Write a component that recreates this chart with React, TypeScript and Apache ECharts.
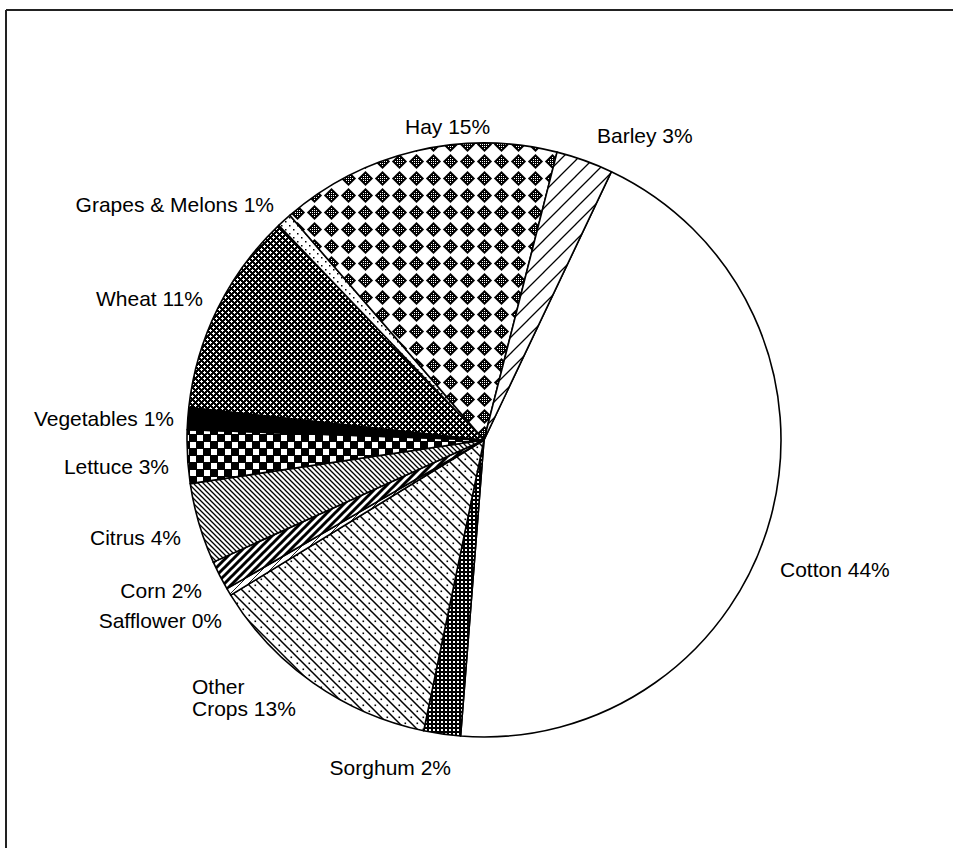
import React, { useEffect, useRef } from 'react';
import * as echarts from 'echarts';

// ---- data (clockwise from the Barley/Cotton boundary) ----
const categories = [
  'Cotton', 'Sorghum', 'Other Crops', 'Safflower', 'Corn', 'Citrus',
  'Lettuce', 'Vegetables', 'Wheat', 'Grapes & Melons', 'Hay', 'Barley',
];
const shares = [44.2, 2.0, 13.0, 0.4, 1.6, 4.4, 2.9, 1.2, 11.1, 0.8, 15.3, 3.1];

// ---- label placement (style only) ----
const labelPlacement: Record<string, { x: number; y: number; align: string }> = {
  'Cotton': { x: 780, y: 569, align: 'left' },
  'Sorghum': { x: 451, y: 767, align: 'right' },
  'Other Crops': { x: 192, y: 697, align: 'left' },
  'Safflower': { x: 222, y: 620, align: 'right' },
  'Corn': { x: 202, y: 590, align: 'right' },
  'Citrus': { x: 181, y: 537, align: 'right' },
  'Lettuce': { x: 169, y: 466, align: 'right' },
  'Vegetables': { x: 174, y: 418, align: 'right' },
  'Wheat': { x: 203, y: 298, align: 'right' },
  'Grapes & Melons': { x: 274, y: 204, align: 'right' },
  'Hay': { x: 405, y: 126, align: 'left' },
  'Barley': { x: 597, y: 135, align: 'left' },
};
const wrapAfterFirstWord = new Set(['Other Crops']);

type Draw = (c: CanvasRenderingContext2D, w: number, h: number) => void;

function tile(w: number, h: number, draw: Draw) {
  const cv = document.createElement('canvas');
  cv.width = w;
  cv.height = h;
  const c = cv.getContext('2d')!;
  c.fillStyle = '#fff';
  c.fillRect(0, 0, w, h);
  draw(c, w, h);
  return { image: cv.toDataURL(), repeat: 'repeat', imageWidth: w, imageHeight: h } as any;
}

function lines(c: CanvasRenderingContext2D, s: number, lw: number, dir: 'back' | 'fwd') {
  c.strokeStyle = '#000';
  c.lineWidth = lw;
  c.beginPath();
  for (const off of [-s, 0, s]) {
    if (dir === 'back') {
      c.moveTo(-2 + off, -2);
      c.lineTo(s + 2 + off, s + 2);
    } else {
      c.moveTo(-2 + off, s + 2);
      c.lineTo(s + 2 + off, -2);
    }
  }
  c.stroke();
}

function buildFills(): Record<string, any> {
  return {
    'Cotton': '#ffffff',
    'Sorghum': tile(4, 4, (c) => {
      c.fillStyle = '#000';
      c.fillRect(0, 0, 4, 4);
      c.fillStyle = '#fff';
      c.fillRect(1, 1, 2, 2);
    }),
    'Other Crops': tile(12, 12, (c) => {
      lines(c, 12, 1.5, 'back');
      c.fillStyle = '#000';
      c.fillRect(8.5, 2.5, 1.6, 1.6);
      c.fillRect(2.5, 8.5, 1.6, 1.6);
    }),
    'Safflower': tile(8, 8, (c) => {
      lines(c, 8, 0.9, 'fwd');
    }),
    'Corn': tile(8, 8, (c) => {
      lines(c, 8, 3, 'fwd');
    }),
    'Citrus': tile(5, 5, (c) => {
      lines(c, 5, 1.3, 'back');
    }),
    'Lettuce': tile(14, 14, (c) => {
      c.fillStyle = '#000';
      c.fillRect(0, 0, 14, 14);
      c.fillStyle = '#fff';
      c.fillRect(1, 1, 6, 6);
      c.fillRect(8, 8, 6, 6);
    }),
    'Vegetables': '#000000',
    'Wheat': tile(6, 6, (c) => {
      c.fillStyle = '#000';
      c.fillRect(0, 0, 6, 6);
      c.fillStyle = '#fff';
      c.fillRect(2, 3, 3, 1);
      c.fillRect(3, 2, 1, 3);
      c.fillRect(0, 0, 2, 1);
      c.fillRect(5, 0, 1, 1);
      c.fillRect(0, 0, 1, 2);
      c.fillRect(0, 5, 1, 1);
    }),
    'Grapes & Melons': tile(8, 8, (c) => {
      c.fillStyle = '#000';
      c.fillRect(1, 1, 1.5, 1.5);
      c.fillRect(5, 5, 1.5, 1.5);
    }),
    'Hay': tile(17, 17, (c) => {
      const cx = 8.5, cy = 8.5, r = 7.6;
      c.fillStyle = '#000';
      c.beginPath();
      c.moveTo(cx, cy - r);
      c.lineTo(cx + r, cy);
      c.lineTo(cx, cy + r);
      c.lineTo(cx - r, cy);
      c.closePath();
      c.fill();
      c.fillStyle = '#fff';
      for (let x = 0; x < 17; x++) {
        for (let y = 0; y < 17; y++) {
          const d = Math.abs(x + 0.5 - cx) + Math.abs(y + 0.5 - cy);
          if (d < 5 && x % 2 === 0 && y % 2 === 0) c.fillRect(x, y, 1, 1);
        }
      }
    }),
    'Barley': tile(16, 16, (c) => {
      lines(c, 16, 1.3, 'fwd');
    }),
  };
}

export default function App() {
  const ref = useRef<HTMLDivElement>(null);

  useEffect(() => {
    if (!ref.current) return;
    const chart = echarts.init(ref.current, undefined, { renderer: 'svg' });
    const fills = buildFills();

    const data = categories.map((name, i) => ({
      name,
      value: shares[i],
      itemStyle: { color: fills[name], borderColor: '#000', borderWidth: 1.6 },
    }));

    chart.setOption({
      animation: false,
      backgroundColor: '#fff',
      graphic: [
        { type: 'line', shape: { x1: 6, y1: 10, x2: 953, y2: 10 }, style: { stroke: '#222', lineWidth: 1.8 } },
        { type: 'line', shape: { x1: 6, y1: 10, x2: 6, y2: 848 }, style: { stroke: '#222', lineWidth: 2 } },
      ],
      series: [
        {
          type: 'pie',
          center: [484, 440],
          radius: 297,
          startAngle: 64.6,
          clockwise: true,
          avoidLabelOverlap: false,
          silent: true,
          label: {
            show: true,
            position: 'outside',
            color: '#000',
            fontFamily: '"Liberation Sans", Arial, Helvetica, sans-serif',
            fontSize: 21,
            lineHeight: 22,
            formatter: (p: any) => {
              const pct = Math.round(p.percent);
              const nm = wrapAfterFirstWord.has(p.name) ? p.name.replace(' ', '\n') : p.name;
              return `${nm} ${pct}%`;
            },
          },
          labelLine: { show: false },
          labelLayout: (p: any) => {
            const pl = labelPlacement[categories[p.dataIndex]];
            return { x: pl.x, y: pl.y, align: pl.align, verticalAlign: 'middle' };
          },
          data,
        },
      ],
    });

    return () => chart.dispose();
  }, []);

  return (
    <div
      ref={ref}
      style={{ position: 'absolute', left: 0, top: 0, width: 953, height: 848, background: '#fff' }}
    />
  );
}
